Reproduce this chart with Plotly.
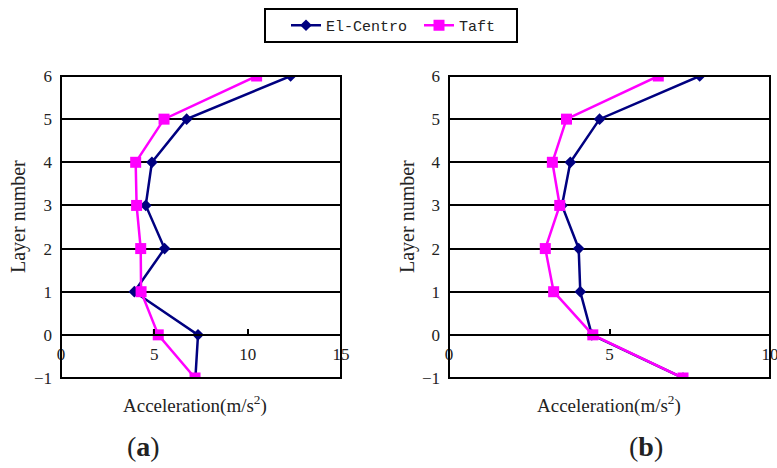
import plotly.graph_objects as go

layers = [6, 5, 4, 3, 2, 1, 0, -1]

# Panel (a)
elcentro_a = [12.3, 6.73, 4.87, 4.54, 5.55, 3.93, 7.34, 7.2]
taft_a = [10.48, 5.52, 4.0, 4.05, 4.27, 4.29, 5.21, 7.18]

# Panel (b)
elcentro_b = [7.81, 4.69, 3.78, 3.52, 4.04, 4.09, 4.45, 7.29]
taft_b = [6.52, 3.66, 3.22, 3.45, 3.0, 3.26, 4.48, 7.29]

x_ticks_a = [0, 5, 10, 15]
x_ticks_b = [0, 5, 10]
series_names = ["El-Centro", "Taft"]
panel_labels = ["(<b>a</b>)", "(<b>b</b>)"]
x_title = "Acceleration(m/s<sup>2</sup>)"
y_title = "Layer number"

NAVY = "#000080"
MAGENTA = "#FF00FF"

fig = go.Figure()

def add_panel(xs_e, xs_t, xa, ya, show):
    fig.add_trace(go.Scatter(x=xs_e, y=layers, mode="lines+markers", name=series_names[0],
                             line=dict(color=NAVY, width=2.5),
                             marker=dict(symbol="diamond", size=9, color=NAVY),
                             xaxis=xa, yaxis=ya, showlegend=show, legendgroup="e"))
    fig.add_trace(go.Scatter(x=xs_t, y=layers, mode="lines+markers", name=series_names[1],
                             line=dict(color=MAGENTA, width=2.5),
                             marker=dict(symbol="square", size=11, color=MAGENTA),
                             xaxis=xa, yaxis=ya, showlegend=show, legendgroup="t"))

add_panel(elcentro_a, taft_a, "x", "y", True)
add_panel(elcentro_b, taft_b, "x2", "y2", False)

ydom = [1 - 378 / 468, 1 - 76 / 468]
xpos = ydom[0] + (ydom[1] - ydom[0]) / 7.0

tickfont = dict(family="Liberation Serif", size=17, color="#222")

common_x = dict(showgrid=False, zeroline=False, showline=True, linecolor="black", linewidth=1.5,
                ticks="inside", ticklen=5, tickcolor="black", tickwidth=1.5,
                tickfont=tickfont, anchor="free", position=xpos, ticklabelstandoff=4,
                automargin=False, ticklabeloverflow="allow")
common_y = dict(range=[-1, 6], dtick=1, tick0=0, showgrid=True, gridcolor="black", gridwidth=2,
                zeroline=False, showline=False, ticks="", tickfont=tickfont,
                domain=ydom, ticklabelstandoff=8, automargin=False)

fig.update_layout(
    width=777, height=468,
    margin=dict(l=0, r=0, t=0, b=0, autoexpand=False),
    paper_bgcolor="white", plot_bgcolor="white",
    xaxis=dict(domain=[61 / 777, 341 / 777], range=[0, 15], tickvals=x_ticks_a, **common_x),
    xaxis2=dict(domain=[449 / 777, 770 / 777], range=[0, 10], tickvals=x_ticks_b, **common_x),
    yaxis=dict(anchor="x", **common_y),
    yaxis2=dict(anchor="x2", **common_y),
    legend=dict(orientation="h", x=286 / 777, y=1 - 25.5 / 468, xanchor="left", yanchor="middle",
                borderwidth=0, bgcolor="rgba(0,0,0,0)", entrywidth=88, entrywidthmode="pixels",
                font=dict(family="Liberation Mono", size=15, color="#222")),
    showlegend=True,
)

# legend frame
fig.add_shape(type="rect", xref="paper", yref="paper",
              x0=265 / 777, x1=517 / 777, y0=1 - 42 / 468, y1=1 - 9 / 468,
              line=dict(color="black", width=2), fillcolor="rgba(0,0,0,0)", layer="below")

for xr, yr in (("x domain", "y domain"), ("x2 domain", "y2 domain")):
    fig.add_shape(type="rect", xref=xr, yref=yr, x0=0, x1=1, y0=0, y1=1,
                  line=dict(color="black", width=2), layer="above")

annots = [
    (18 / 777, 1 - 217 / 468, y_title, -90, 20),
    (407 / 777, 1 - 217 / 468, y_title, -90, 20),
    (195 / 777, 1 - 404 / 468, x_title, 0, 19),
    (609 / 777, 1 - 404 / 468, x_title, 0, 19),
    (143 / 777, 1 - 446 / 468, panel_labels[0], 0, 28),
    (646 / 777, 1 - 446 / 468, panel_labels[1], 0, 28),
]
for x, y, t, ang, sz in annots:
    fig.add_annotation(x=x, y=y, xref="paper", yref="paper", text=t, textangle=ang,
                       showarrow=False, xanchor="center", yanchor="middle",
                       font=dict(family="Liberation Serif", size=sz, color="#222"))

fig.write_html("out.html")
